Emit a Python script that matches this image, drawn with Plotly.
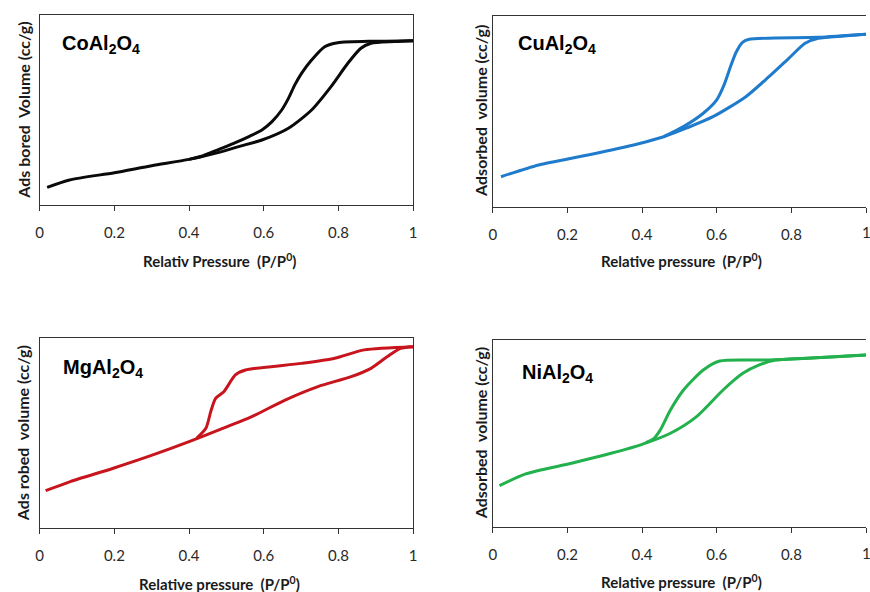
import plotly.graph_objects as go

# ---- data (relative pressure P/P0, adsorbed volume in arbitrary units 0-100) ----
co_ads_x = [0.02, 0.08, 0.20, 0.30, 0.40, 0.48, 0.53, 0.595, 0.666, 0.728, 0.78, 0.825, 0.86, 0.887, 0.95, 1.0]
co_ads_y = [9.3, 13.2, 17.0, 20.7, 24.0, 27.7, 30.6, 34.2, 40.4, 50.0, 62.3, 74.6, 82.5, 85.1, 86.0, 86.5]
co_des_x = [1.0, 0.90, 0.798, 0.763, 0.728, 0.701, 0.683, 0.666, 0.648, 0.622, 0.595, 0.560, 0.524, 0.480, 0.436, 0.40]
co_des_y = [86.5, 86.2, 85.4, 83.3, 76.3, 69.3, 63.2, 56.1, 50.0, 43.9, 39.5, 36.0, 32.8, 29.3, 25.8, 24.0]

cu_ads_x = [0.022, 0.123, 0.255, 0.388, 0.458, 0.52, 0.59, 0.678, 0.74, 0.793, 0.837, 0.872, 0.94, 1.0]
cu_ads_y = [15.7, 21.9, 27.1, 32.9, 36.7, 41.3, 47.2, 57.7, 68.2, 77.8, 85.7, 88.3, 89.5, 90.4]
cu_des_x = [1.0, 0.872, 0.687, 0.670, 0.652, 0.638, 0.62, 0.60, 0.564, 0.511, 0.458]
cu_des_y = [90.4, 88.8, 87.8, 86.3, 81.0, 74.0, 64.0, 56.0, 49.0, 42.0, 36.7]

mg_ads_x = [0.016, 0.082, 0.197, 0.303, 0.40, 0.48, 0.568, 0.657, 0.745, 0.834, 0.887, 0.931, 0.966, 1.0]
mg_ads_y = [19.8, 24.6, 31.6, 38.6, 45.6, 51.8, 58.8, 67.5, 74.6, 79.8, 84.2, 90.4, 94.7, 95.6]
mg_des_x = [1.0, 0.869, 0.79, 0.701, 0.551, 0.524, 0.493, 0.471, 0.458, 0.445, 0.42]
mg_des_y = [95.6, 93.9, 89.5, 86.8, 83.3, 80.7, 71.9, 68.4, 61.4, 52.6, 47.3]

ni_ads_x = [0.018, 0.088, 0.211, 0.317, 0.396, 0.476, 0.546, 0.617, 0.67, 0.714, 0.758, 0.88, 1.0]
ni_ads_y = [22.2, 28.5, 34.2, 39.5, 44.0, 50.2, 59.1, 73.3, 82.2, 86.7, 89.3, 90.6, 92.0]
ni_des_x = [1.0, 0.74, 0.608, 0.564, 0.511, 0.476, 0.449, 0.432, 0.41]
ni_des_y = [92.0, 89.3, 88.8, 84.0, 73.3, 62.6, 52.0, 47.5, 45.2]

x_ticks = [0, 0.2, 0.4, 0.6, 0.8, 1]
x_tick_text = ["0", "0.2", "0.4", "0.6", "0.8", "1"]

panels = [
    dict(name="CoAl<sub>2</sub>O<sub>4</sub>", color="#0a0a0a",
         ax=co_ads_x, ay=co_ads_y, dx=co_des_x, dy=co_des_y,
         ytitle="Ads bored  Volume (cc/g)", xtitle="Relativ Pressure  (P/P<sup>0</sup>)"),
    dict(name="CuAl<sub>2</sub>O<sub>4</sub>", color="#1f7bcc",
         ax=cu_ads_x, ay=cu_ads_y, dx=cu_des_x, dy=cu_des_y,
         ytitle="Adsorbed  volume (cc/g)", xtitle="Relative pressure  (P/P<sup>0</sup>)"),
    dict(name="MgAl<sub>2</sub>O<sub>4</sub>", color="#c8141c",
         ax=mg_ads_x, ay=mg_ads_y, dx=mg_des_x, dy=mg_des_y,
         ytitle="Ads robed  volume (cc/g)", xtitle="Relative pressure  (P/P<sup>0</sup>)"),
    dict(name="NiAl<sub>2</sub>O<sub>4</sub>", color="#22b14c",
         ax=ni_ads_x, ay=ni_ads_y, dx=ni_des_x, dy=ni_des_y,
         ytitle="Adsorbed  volume (cc/g)", xtitle="Relative pressure  (P/P<sup>0</sup>)"),
]

W, H = 870, 592
# pixel boxes: left, right, top, bottom
boxes = [
    (36, 413, 15, 205),
    (493.3, 870, 16, 206.7),
    (36, 413, 338.3, 528.3),
    (493.3, 870, 340, 527.3),
]
label_pos = [(57, 44), (517, 44), (58, 368), (521, 373)]
ytitle_x = [20, 481, 18, 481]
xtitle_y = [260, 260, 583, 581]
ticklab_y = [232, 232, 556, 553]

fig = go.Figure()
annotations = []
tickfont = dict(family="Lato, Open Sans, sans-serif", size=15, color="#2a2a2a")
for i, (p, b) in enumerate(zip(panels, boxes)):
    n = "" if i == 0 else str(i + 1)
    xa, ya = "x" + n, "y" + n
    for xs, ys in ((p["ax"], p["ay"]), (p["dx"], p["dy"])):
        fig.add_trace(go.Scatter(x=xs, y=ys, mode="lines", xaxis=xa, yaxis=ya,
                                 line=dict(color=p["color"], width=3, shape="spline", smoothing=0.7),
                                 showlegend=False, hoverinfo="skip"))
    l, r, t, bt = b
    right_side = i in (1, 3)
    xdom = [l / W, min(r / W, 1.0)]
    ydom = [1 - bt / H, 1 - t / H]
    fig.layout["xaxis" + n] = dict(domain=xdom, range=[0, 1], anchor=ya,
                                   tickvals=x_ticks, ticktext=x_tick_text,
                                   ticks="outside", ticklen=5, tickcolor="#333", tickwidth=1,
                                   ticklabelstandoff=9,
                                   showline=True, linecolor="#333", linewidth=1, mirror=True,
                                   showgrid=False, zeroline=False, tickfont=tickfont,
                                   fixedrange=True)
    fig.layout["yaxis" + n] = dict(domain=ydom, range=[0, 100], anchor=xa,
                                   showticklabels=False, ticks="",
                                   showline=True, linecolor="#333", linewidth=1,
                                   mirror=not right_side,
                                   showgrid=False, zeroline=False, fixedrange=True)
    if right_side:
        # last tick label sits on the page edge, half cut as in the source
        annotations.append(dict(text="1", xref=xa, yref="paper", x=1.0,
                                y=1 - ticklab_y[i] / H, xanchor="center", yanchor="middle",
                                showarrow=False, font=tickfont))
    # panel label
    lx, ly = label_pos[i]
    annotations.append(dict(text="<b>" + p["name"] + "</b>", xref="paper", yref="paper",
                            x=lx / W, y=1 - ly / H, xanchor="left", yanchor="middle",
                            showarrow=False,
                            font=dict(family="Liberation Sans, Arial, sans-serif", size=20, color="#000")))
    # y title
    annotations.append(dict(text="<b>" + p["ytitle"] + "</b>", xref="paper", yref="paper",
                            x=ytitle_x[i] / W, y=1 - ((t + bt) / 2) / H, textangle=-90,
                            xanchor="center", yanchor="middle", showarrow=False,
                            font=dict(family="Lato, Open Sans, sans-serif", size=16, color="#1a1a1a")))
    # x title
    annotations.append(dict(text="<b>" + p["xtitle"] + "</b>", xref="paper", yref="paper",
                            x=((l + min(r, 870)) / 2 - (7 if i in (0, 2) else -2)) / W,
                            y=1 - xtitle_y[i] / H,
                            xanchor="center", yanchor="middle", showarrow=False,
                            font=dict(family="Lato, Open Sans, sans-serif", size=15, color="#1a1a1a")))

fig.update_layout(width=W, height=H, margin=dict(l=0, r=0, t=0, b=0),
                  paper_bgcolor="white", plot_bgcolor="white",
                  annotations=annotations)

fig.write_html("out.html", config={"displayModeBar": False},
               post_script="document.body.style.margin='0';")
